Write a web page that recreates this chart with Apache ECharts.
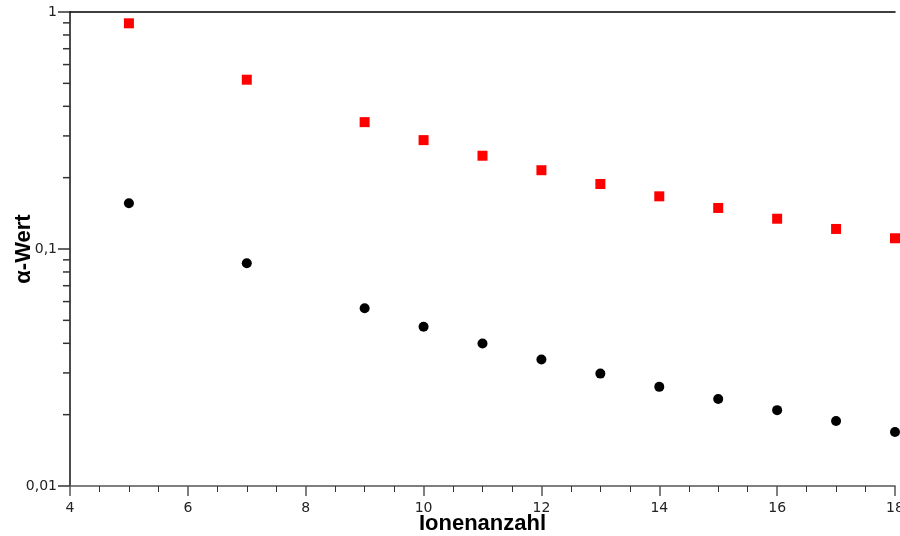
<!DOCTYPE html>
<html>
<head>
<meta charset="utf-8">
<script src="https://cdn.jsdelivr.net/npm/echarts@6/dist/echarts.min.js"></script>
<style>
  html, body { margin: 0; padding: 0; background: #fff; }
  #chart { width: 900px; height: 536px; }
</style>
</head>
<body>
<div id="chart"></div>
<script>
// Ionenanzahl (x) gegen alpha-Wert (y, log)
var ionen = [5, 7, 9, 10, 11, 12, 13, 14, 15, 16, 17, 18]
var alphaRot = [0.896, 0.518, 0.343, 0.288, 0.2475, 0.215, 0.188, 0.1668, 0.149, 0.1342, 0.1215, 0.111]
var alphaSchwarz = [0.156, 0.087, 0.0562, 0.047, 0.0399, 0.0342, 0.0298, 0.0262, 0.0233, 0.0209, 0.0188, 0.0169]
// kleine Striche der log-Achse
var yMinorTicks = [0.02, 0.03, 0.04, 0.05, 0.06, 0.07, 0.08, 0.09, 0.2, 0.3, 0.4, 0.5, 0.6, 0.7, 0.8, 0.9]
var xMin = 4
var xMax = 18

var myChart = echarts.init(document.getElementById('chart'))

function pairs (xs, ys) {
  var out = []
  for (var i = 0; i < xs.length; i++) {
    out.push([xs[i], ys[i]])
  }
  return out
}

var tickFont = { fontFamily: 'DejaVu Sans', fontSize: 14, color: '#222' }
var nameFont = { fontFamily: 'Liberation Sans', fontSize: 22, fontWeight: 'bold', color: '#000' }

var option = {
  animation: false,
  backgroundColor: '#fff',
  grid: { left: 70, right: 5, top: 12, bottom: 50, outerBoundsMode: 'none' },
  xAxis: [{
    type: 'value',
    min: xMin,
    max: xMax,
    interval: 2,
    name: 'Ionenanzahl',
    nameLocation: 'middle',
    nameGap: 27,
    nameMoveOverlap: false,
    nameTextStyle: nameFont,
    axisLine: { show: true, onZero: false, lineStyle: { color: '#555', width: 1.5 } },
    axisTick: { show: true, inside: false, length: 10, lineStyle: { color: '#555', width: 1.5 } },
    minorTick: { show: true, splitNumber: 4, length: 6, lineStyle: { color: '#333', width: 1 } },
    axisLabel: Object.assign({ margin: 15, showMinLabel: true, showMaxLabel: true }, tickFont),
    splitLine: { show: false },
    minorSplitLine: { show: false }
  }, {
    // obere Rahmenlinie
    type: 'value',
    position: 'top',
    min: xMin,
    max: xMax,
    axisLine: { show: true, onZero: false, lineStyle: { color: '#000', width: 1.5 } },
    axisTick: { show: false },
    axisLabel: { show: false },
    splitLine: { show: false }
  }],
  yAxis: {
    type: 'log',
    logBase: 10,
    min: 0.01,
    max: 1,
    name: 'α-Wert',
    nameLocation: 'middle',
    nameRotate: 90,
    nameGap: 35,
    nameMoveOverlap: false,
    nameTextStyle: nameFont,
    axisLine: { show: true, onZero: false, lineStyle: { color: '#111', width: 1.5 } },
    axisTick: { show: true, inside: false, length: 12, lineStyle: { color: '#333', width: 1.5 } },
    axisLabel: Object.assign({
      margin: 13,
      formatter: function (v) {
        return String(Number(v.toPrecision(3))).replace('.', ',')
      }
    }, tickFont),
    splitLine: { show: false }
  },
  series: [{
    type: 'custom',
    silent: true,
    clip: false,
    z: 1,
    data: yMinorTicks.map(function (v) { return [xMin, v] }),
    renderItem: function (params, api) {
      var p = api.coord([api.value(0), api.value(1)])
      return {
        type: 'line',
        shape: { x1: p[0] - 7, y1: p[1], x2: p[0], y2: p[1] },
        style: { stroke: '#333', lineWidth: 1.5 }
      }
    }
  }, {
    type: 'scatter',
    symbol: 'rect',
    symbolSize: 10,
    itemStyle: { color: '#ff0000', opacity: 1 },
    data: pairs(ionen, alphaRot)
  }, {
    type: 'scatter',
    symbol: 'circle',
    symbolSize: 10,
    itemStyle: { color: '#000', opacity: 1 },
    data: pairs(ionen, alphaSchwarz)
  }]
}

myChart.setOption(option, true)
window.addEventListener('resize', function () {
  myChart.resize()
})
</script>
</body>
</html>
